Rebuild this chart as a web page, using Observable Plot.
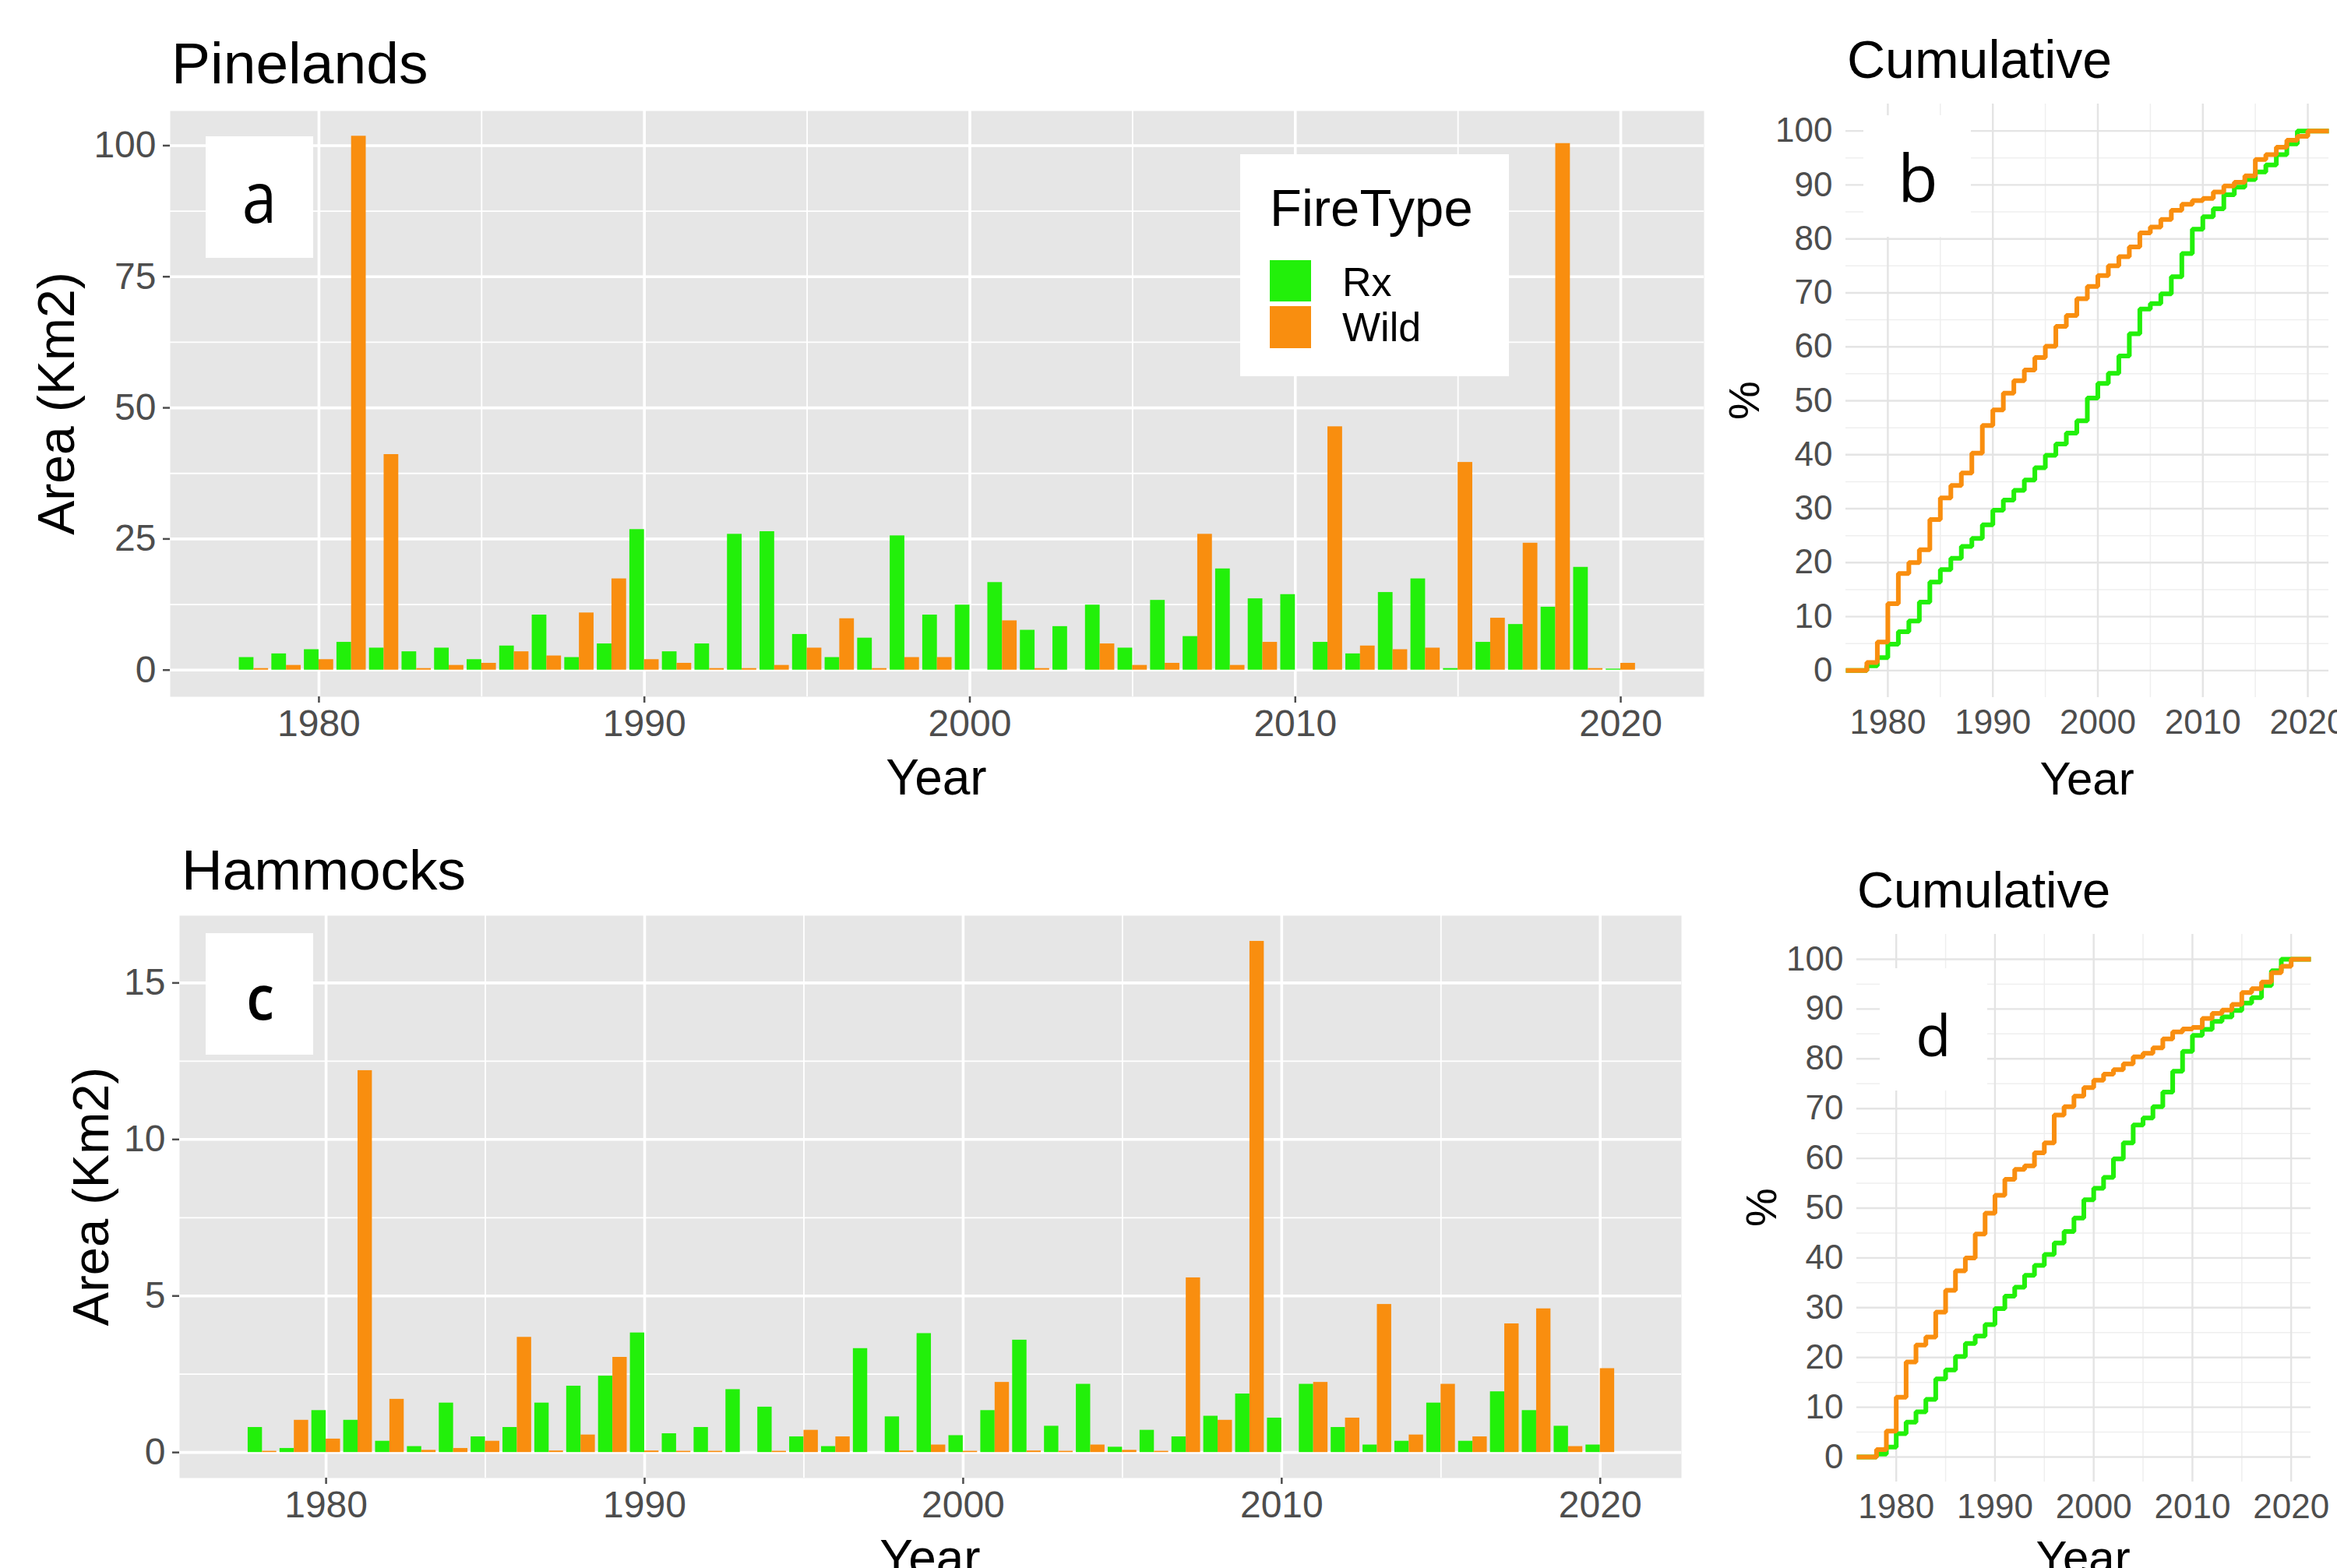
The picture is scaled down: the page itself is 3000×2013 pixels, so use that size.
<!DOCTYPE html>
<html><head><meta charset="utf-8">
<script src="https://cdn.jsdelivr.net/npm/d3@7"></script>
<script src="https://cdn.jsdelivr.net/npm/@observablehq/plot@0.6"></script>
<style>
html,body{margin:0;padding:0;background:#fff;}
#root{position:relative;width:3000px;height:2013px;overflow:hidden;background:#fff;font-family:"Liberation Sans",Arial,sans-serif;}
.panel{position:absolute;}
#overlay{position:absolute;left:0;top:0;pointer-events:none;}
</style></head><body><div id="root"></div>
<script>
// ---------- DATA ----------
const fireTypes = ["Rx", "Wild"];
const fireColors = ["#22F00A", "#F98E0F"];

const barYears = [1978,1979,1980,1981,1982,1983,1984,1985,1986,1987,1988,1989,1990,1991,1992,1993,1994,1995,1996,1997,1998,1999,2000,2001,2002,2003,2004,2005,2006,2007,2008,2009,2010,2011,2012,2013,2014,2015,2016,2017,2018,2019,2020];

// Pinelands annual area (Km2)
const pineRx   = [2.4,3.1,3.9,5.3,4.2,3.5,4.2,2.0,4.6,10.5, 2.4,5.0,26.8,3.5,5.0,25.9,26.4,6.8,2.4,6.1, 25.6,10.5,12.4,16.7,7.6,8.3,12.4,4.2,13.3,6.4, 19.3,13.6,14.4,5.3,3.1,14.8,17.4,0.3,5.3,8.7, 12.0,19.6,0.2];
const pineWild = [0.3,0.9,2.0,101.8,41.1,0.3,0.9,1.3,3.5,2.7, 10.9,17.4,2.0,1.3,0.3,0.3,0.9,4.2,9.8,0.3, 2.4,2.4,0,9.4,0.3,0,5.0,0.9,1.3,25.9, 0.9,5.3,0,46.4,4.6,3.9,4.2,39.6,9.9,24.2, 100.4,0.3,1.3];

// Hammocks annual area (Km2)
const hamRx   = [0.80,0.13,1.34,1.03,0.36,0.19,1.58,0.50,0.80,1.58, 2.12,2.44,3.82,0.60,0.80,2.01,1.45,0.50,0.19,3.32, 1.14,3.80,0.54,1.34,3.59,0.84,2.18,0.17,0.71,0.50, 1.16,1.87,1.10,2.18,0.80,0.24,0.36,1.58,0.36,1.94, 1.34,0.84,0.24];
const hamWild = [0.04,1.03,0.43,12.2,1.70,0.07,0.13,0.36,3.68,0.05, 0.56,3.04,0.05,0.04,0.04,0,0.04,0.71,0.50,0, 0.05,0.24,0.04,2.24,0.05,0.04,0.24,0.07,0.04,5.58, 1.03,16.33,0,2.24,1.10,4.73,0.56,2.18,0.50,4.11, 4.59,0.19,2.68];

const cumYears = [1976,1977,1978,1979,1980,1981,1982,1983,1984,1985,1986,1987,1988,1989,1990,1991,1992,1993,1994,1995,1996,1997,1998,1999,2000,2001,2002,2003,2004,2005,2006,2007,2008,2009,2010,2011,2012,2013,2014,2015,2016,2017,2018,2019,2020,2021,2022];

// Cumulative % (Pinelands)
const pineCumRx   = [0,0,0.9,2.4,4.9,7.2,9.2,12.7,16.4,18.7, 20.8,23,24.5,27,29.7,31.6,33.4,35.3,37.6,39.9, 42,44,46.3,50.5,53.2,55.1,58.3,62.4,67,68, 69.8,73,77.3,81.8,84.1,85.6,88.2,89.6,91,92.4, 93.7,95.6,97.6,100,100,100,100];
const pineCumWild = [0,0,1.5,5.3,12.4,18,20,22.4,28,32, 34.3,36.6,40.3,45.4,48.3,51.4,53.7,55.7,58,60.1, 63.8,65.8,68.9,71.2,73.2,75,76.7,78.5,81.1,82.2, 83.6,85.3,86.4,87.1,87.5,88.7,89.8,90.5,91.7,94.7, 95.6,97,98.3,99,100,100,100];

// Cumulative % (Hammocks)
const hamCumRx   = [0,0,0.6,2,4.7,7,9.1,11.6,15.7,17.5, 20.2,22.8,24.3,26.6,29.8,32.3,34.1,36.5,38.5,40.7, 43,45.3,48,51.7,54,56.2,59.9,63.1,66.7,68.1, 70.4,73.3,77.5,81.5,84.7,85.9,87.5,88.4,89.7,91.2, 92.3,94.7,97.7,100,100,100,100];
const hamCumWild = [0,0,1.5,5.2,12,19.1,22.5,24.1,29.1,33.5, 37.4,40,44.8,49,52.6,55.8,57.8,58.5,61.1,63.1, 68.7,70.4,72.5,74.2,75.7,76.9,77.8,79,80.4,81.1, 82.2,84,85.4,86,86.3,88.1,89.1,89.8,90.9,93.3, 94.1,95.4,97.3,98.6,100,100,100];

// Tick values
const yearTicks = [1980,1990,2000,2010,2020];
const yearMinor = [1985,1995,2005,2015];
const pineYTicks = [0,25,50,75,100];
const pineYMinor = [12.5,37.5,62.5,87.5];
const hamYTicks = [0,5,10,15];
const hamYMinor = [2.5,7.5,12.5];
const pctTicks = [0,10,20,30,40,50,60,70,80,90,100];
const pctMinor = [5,15,25,35,45,55,65,75,85,95];

// ---------- STYLE ----------
const FONT = '"Liberation Sans", Arial, sans-serif';
const PANEL_BG = "#E6E6E6";
const TICK_COLOR = "#4D4D4D";
const BAR_W = 0.45;

const root = document.getElementById("root");
function place(node, left, top) {
  const d = document.createElement("div");
  d.className = "panel";
  d.style.left = left + "px"; d.style.top = top + "px";
  d.appendChild(node);
  root.appendChild(d);
}

function barPlot({rx, wild, xDomain, yDomain, yTicks, yMinor, W, H, mL, mB, fs}) {
  const data = [];
  barYears.forEach((yr, i) => {
    data.push({year: yr, type: "Rx", value: rx[i]});
    data.push({year: yr, type: "Wild", value: wild[i]});
  });
  return Plot.plot({
    width: W, height: H,
    marginLeft: mL, marginRight: 10, marginTop: 10, marginBottom: mB,
    style: {fontFamily: FONT, overflow: "visible", background: "transparent"},
    x: {domain: xDomain, label: null},
    y: {domain: yDomain, label: null},
    color: {domain: fireTypes, range: fireColors},
    marks: [
      Plot.frame({fill: PANEL_BG, stroke: "none"}),
      Plot.gridY(yMinor, {stroke: "#fff", strokeOpacity: 1, strokeWidth: 1.8}),
      Plot.gridX(yearMinor, {stroke: "#fff", strokeOpacity: 1, strokeWidth: 1.8}),
      Plot.gridY(yTicks, {stroke: "#fff", strokeOpacity: 1, strokeWidth: 3.6}),
      Plot.gridX(yearTicks, {stroke: "#fff", strokeOpacity: 1, strokeWidth: 3.6}),
      Plot.rect(data, {
        x1: d => d.type === "Rx" ? d.year - BAR_W : d.year,
        x2: d => d.type === "Rx" ? d.year : d.year + BAR_W,
        y1: 0, y2: "value", fill: "type"
      }),
      Plot.axisX(yearTicks, {tickSize: 8, tickPadding: 8, fontSize: fs, tickFormat: "d", color: TICK_COLOR, strokeWidth: 2.5, label: null}),
      Plot.axisY(yTicks, {anchor: "left", tickSize: 9, tickPadding: 9, fontSize: fs, tickFormat: "d", color: TICK_COLOR, strokeWidth: 2.5, label: null})
    ]
  });
}

function cumPlot({rx, wild, W, H, mL, mB, fs}) {
  const rxData = cumYears.map((yr, i) => ({year: yr, type: "Rx", value: rx[i]}));
  const wildData = cumYears.map((yr, i) => ({year: yr, type: "Wild", value: wild[i]}));
  return Plot.plot({
    width: W, height: H,
    marginLeft: mL, marginRight: 10, marginTop: 10, marginBottom: mB,
    style: {fontFamily: FONT, overflow: "visible", background: "transparent"},
    x: {domain: [1976, 2022], label: null},
    y: {domain: [-5, 105], label: null},
    color: {domain: fireTypes, range: fireColors},
    marks: [
      Plot.gridY(pctMinor, {stroke: "#EFEFEF", strokeOpacity: 1, strokeWidth: 1.5}),
      Plot.gridX(yearMinor, {stroke: "#EFEFEF", strokeOpacity: 1, strokeWidth: 1.5}),
      Plot.gridY(pctTicks, {stroke: "#E4E4E4", strokeOpacity: 1, strokeWidth: 2.4}),
      Plot.gridX(yearTicks, {stroke: "#E4E4E4", strokeOpacity: 1, strokeWidth: 2.4}),
      Plot.line(rxData, {x: "year", y: "value", stroke: "type", curve: "step-after", strokeWidth: 6, strokeLinejoin: "miter", strokeLinecap: "butt"}),
      Plot.line(wildData, {x: "year", y: "value", stroke: "type", curve: "step-after", strokeWidth: 6, strokeLinejoin: "miter", strokeLinecap: "butt"}),
      Plot.axisX(yearTicks, {tickSize: 0, tickPadding: 15, fontSize: fs, tickFormat: "d", color: TICK_COLOR, label: null}),
      Plot.axisY(pctTicks, {anchor: "left", tickSize: 0, tickPadding: 17, fontSize: fs, tickFormat: "d", color: TICK_COLOR, label: null})
    ]
  });
}

// Panel a: frame 218..2187 x 142..894
place(barPlot({rx: pineRx, wild: pineWild, xDomain: [1975.43, 2022.56], yDomain: [-5.09, 106.6],
  yTicks: pineYTicks, yMinor: pineYMinor, W: 2179, H: 852, mL: 200, mB: 90, fs: 48}), 18, 132);

// Panel c: frame 230..2158 x 1175..1897
place(barPlot({rx: hamRx, wild: hamWild, xDomain: [1975.4, 2022.55], yDomain: [-0.817, 17.15],
  yTicks: hamYTicks, yMinor: hamYMinor, W: 2138, H: 822, mL: 200, mB: 90, fs: 48}), 30, 1165);

// Panel b: frame 2369..2989 x 133..895
place(cumPlot({rx: pineCumRx, wild: pineCumWild, W: 780, H: 862, mL: 150, mB: 90, fs: 44}), 2219, 123);

// Panel d: frame 2383..2966 x 1199..1902
place(cumPlot({rx: hamCumRx, wild: hamCumWild, W: 743, H: 803, mL: 150, mB: 90, fs: 44}), 2233, 1189);

// ---------- OVERLAY: titles, axis titles, panel letters, legend ----------
const ov = d3.select(root).append("svg").attr("id", "overlay")
  .attr("width", 3000).attr("height", 2013)
  .style("font-family", FONT);

function txt(x, y, s, size, opts = {}) {
  const t = ov.append("text").attr("x", x).attr("y", y).attr("font-size", size)
    .attr("fill", opts.fill || "#000").text(s);
  if (opts.anchor) t.attr("text-anchor", opts.anchor);
  if (opts.family) t.attr("font-family", opts.family);
  if (opts.weight) t.attr("font-weight", opts.weight);
  if (opts.transform) t.attr("transform", opts.transform).attr("x", 0).attr("y", 0);
  return t;
}

// Titles
txt(220, 107, "Pinelands", 75);
txt(233, 1142, "Hammocks", 73);
txt(2371, 100, "Cumulative", 68);
txt(2384, 1165, "Cumulative", 65);

// Axis titles
txt(0, 0, "Area (Km2)", 66, {anchor: "middle", transform: "translate(95,518) rotate(-90)"});
txt(0, 0, "Area (Km2)", 65, {anchor: "middle", transform: "translate(139,1536) rotate(-90)"});
txt(1202, 1020, "Year", 64, {anchor: "middle"});
txt(2679, 1020, "Year", 60, {anchor: "middle"});
txt(1194, 2022, "Year", 64, {anchor: "middle"});
txt(2674, 2020, "Year", 60, {anchor: "middle"});
txt(0, 0, "%", 56, {anchor: "middle", transform: "translate(2258,514) rotate(-90)"});
txt(0, 0, "%", 56, {anchor: "middle", transform: "translate(2280,1550) rotate(-90)"});

// Panel letters in white boxes
const letterFont = '"Open Sans", "Noto Sans", sans-serif';
const boxes = [
  {x: 264, y: 175, w: 138, h: 156, s: "a", cx: 333, by: 286, fs: 80, sy: 1.15, wt: 400},
  {x: 264, y: 1198, w: 138, h: 156, s: "c", cx: 334, by: 1309, fs: 72, sy: 1.1, wt: 600},
  {x: 2392, y: 148, w: 138, h: 156, s: "b", cx: 2462, by: 259, fs: 84, sy: 1.0, wt: 400},
  {x: 2413, y: 1243, w: 138, h: 157, s: "d", cx: 2482, by: 1356, fs: 74, sy: 1.0, wt: 400}
];
boxes.forEach(b => {
  ov.append("rect").attr("x", b.x).attr("y", b.y).attr("width", b.w).attr("height", b.h).attr("fill", "#fff");
  txt(0, 0, b.s, b.fs, {anchor: "middle", family: letterFont, weight: b.wt,
    transform: `translate(${b.cx},${b.by}) scale(1,${b.sy})`});
});

// Legend
ov.append("rect").attr("x", 1592).attr("y", 198).attr("width", 345).attr("height", 285).attr("fill", "#fff");
txt(1630, 290, "FireType", 67);
ov.append("rect").attr("x", 1630).attr("y", 334).attr("width", 53).attr("height", 53).attr("fill", fireColors[0]);
ov.append("rect").attr("x", 1630).attr("y", 393).attr("width", 53).attr("height", 54).attr("fill", fireColors[1]);
txt(1723, 380, fireTypes[0], 52);
txt(1723, 438, fireTypes[1], 52);
</script>
</body></html>
